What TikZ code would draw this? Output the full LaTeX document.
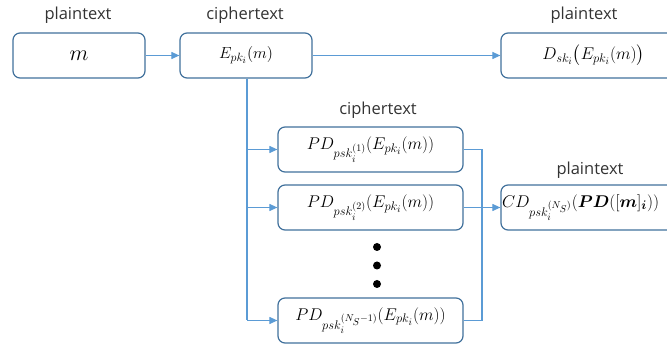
\RequirePackage{fix-cm}
\documentclass[tikz,border=0pt]{standalone}
\usepackage{fontspec}
\usepackage{amsmath,bm}
\usetikzlibrary{arrows.meta}
\newfontfamily\labfont{Open Sans}
\definecolor{boxline}{HTML}{41719C}
\definecolor{arrowc}{HTML}{5B9BD5}
\DeclareMathSizes{16}{16}{12}{9.5}
\DeclareMathSizes{17}{17}{12.5}{10}
\DeclareMathSizes{22}{22}{16}{12}
\begin{document}
\begin{tikzpicture}[x=1pt,y=-1pt,
  box/.style={draw=boxline,line width=1.2pt,rounded corners=7pt,fill=white,minimum height=45pt,inner sep=0pt,font=\fontsize{17}{19}\selectfont},
  lab/.style={font=\labfont\fontsize{16.5}{18}\selectfont,text=black!80,inner sep=0pt},
  conn/.style={draw=arrowc,line width=1.1pt},
  arr/.style={conn,-{Triangle[length=8pt,width=7pt]}},
  dot/.style={circle,fill=black,inner sep=0pt,minimum size=8pt}]
\useasboundingbox (0,0) rectangle (667,344);
\clip (0,0) rectangle (667,344);
\node[box,minimum width=132pt,font=\fontsize{22}{24}\selectfont] (m) at (79,55.5) {$m$};
\node[box,minimum width=132pt,font=\fontsize{16}{18}\selectfont] (E) at (246,55.5) {$E_{pk_i}(m)$};
\node[box,minimum width=185pt] (D) at (593.5,55.5) {$D_{sk_i}\bigl(E_{pk_i}(m)\bigr)$};
\node[box,minimum width=185pt] (P1) at (370.5,149.5) {$PD_{psk_i^{(1)}}(E_{pk_i}(m))$};
\node[box,minimum width=185pt] (P2) at (370.5,207.5) {$PD_{psk_i^{(2)}}(E_{pk_i}(m))$};
\node[box,minimum width=185pt] (P3) at (370.5,320.5) {$PD_{psk_i^{(N_S-1)}}(E_{pk_i}(m))$};
\node[box,minimum width=185pt] (CD) at (593.5,207.5) {};
\node[anchor=west,inner sep=0pt,font=\fontsize{17}{19}\selectfont] (CDt) at (502,207.5) {$CD_{psk_i^{(N_S)}}(\bm{PD}([\bm{m}]_{\bm{i}}))$};
\node[lab] (l1) at (78,15) {plaintext};
\node[lab] (l2) at (245,15) {ciphertext};
\node[lab] (l3) at (584,15) {plaintext};
\node[lab] (l4) at (378,110) {ciphertext};
\node[lab] (l5) at (590,170) {plaintext};
\node[dot] (d1) at (377,247) {};
\node[dot] (d2) at (377,265.5) {};
\node[dot] (d3) at (377,284) {};
\coordinate (br) at (247,78);
\coordinate (j) at (482,207.5);
\draw[arr] (m) -- (E);
\draw[arr] (E) -- (D);
\draw[conn] (E.south -| br) -- (br |- P3.west);
\draw[arr] (br |- P1.west) -- (P1.west);
\draw[arr] (br |- P2.west) -- (P2.west);
\draw[arr] (br |- P3.west) -- (P3.west);
\draw[conn] (P1.east) -| (j);
\draw[conn] (P3.east) -| (j);
\draw[arr] (P2.east) -- (CD.west);
\end{tikzpicture}
\end{document}
